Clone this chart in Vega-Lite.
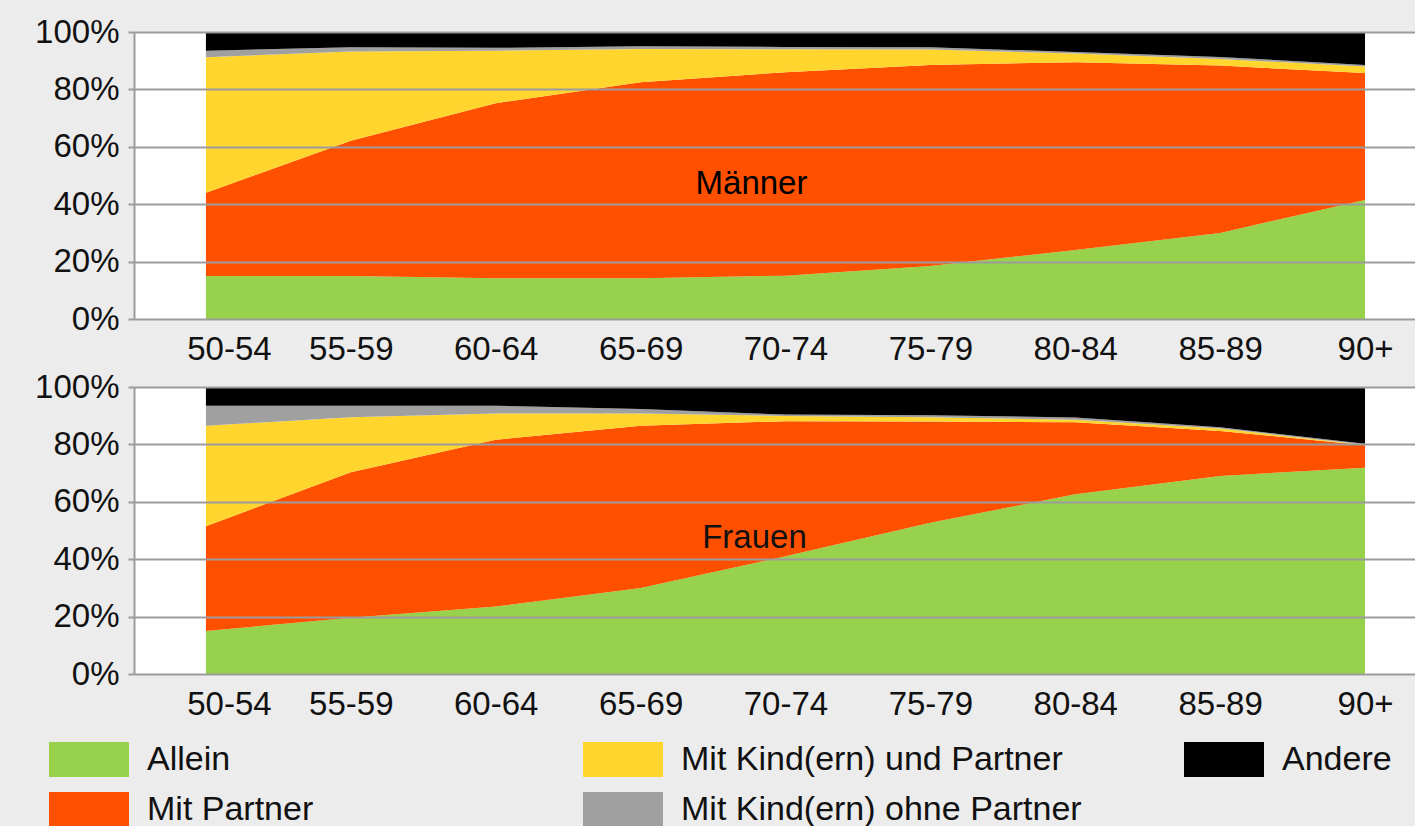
{
  "$schema": "https://vega.github.io/schema/vega-lite/v6.json",
  "background": "#ececec",
  "padding": {"left": 34, "top": 16, "right": 0, "bottom": 0},
  "bounds": "flush",
  "spacing": 68,
  "resolve": {"scale": {"color": "independent"}, "legend": {"color": "independent"}},
  "config": {
    "font": "Liberation Sans",
    "view": {"fill": "white", "stroke": null},
    "axis": {"labelFont": "Liberation Sans", "labelFontSize": 33, "labelColor": "#111111", "title": null},
    "legend": {"symbolType": "M-1,-0.4375H1V0.4375H-1Z", "symbolSize": 6400, "symbolStrokeWidth": 0, "symbolOpacity": 1,
      "clipHeight": 35, "rowPadding": 15, "labelOffset": 18, "padding": 0, "columns": 1,
      "labelFont": "Liberation Sans", "labelFontSize": 34, "labelColor": "#111111", "labelLimit": 2000}
  },
  "data": {"values": [
    {"g":"Männer","a":"50-54","t":"Allein","p":15.0},{"g":"Männer","a":"50-54","t":"Mit Partner","p":29.0},{"g":"Männer","a":"50-54","t":"Mit Kind(ern) und Partner","p":47.2},{"g":"Männer","a":"50-54","t":"Mit Kind(ern) ohne Partner","p":2.3},{"g":"Männer","a":"50-54","t":"Andere","p":6.5},
    {"g":"Männer","a":"55-59","t":"Allein","p":15.0},{"g":"Männer","a":"55-59","t":"Mit Partner","p":47.1},{"g":"Männer","a":"55-59","t":"Mit Kind(ern) und Partner","p":31.1},{"g":"Männer","a":"55-59","t":"Mit Kind(ern) ohne Partner","p":1.5},{"g":"Männer","a":"55-59","t":"Andere","p":5.3},
    {"g":"Männer","a":"60-64","t":"Allein","p":14.2},{"g":"Männer","a":"60-64","t":"Mit Partner","p":61.0},{"g":"Männer","a":"60-64","t":"Mit Kind(ern) und Partner","p":18.3},{"g":"Männer","a":"60-64","t":"Mit Kind(ern) ohne Partner","p":1.0},{"g":"Männer","a":"60-64","t":"Andere","p":5.5},
    {"g":"Männer","a":"65-69","t":"Allein","p":14.2},{"g":"Männer","a":"65-69","t":"Mit Partner","p":68.3},{"g":"Männer","a":"65-69","t":"Mit Kind(ern) und Partner","p":11.6},{"g":"Männer","a":"65-69","t":"Mit Kind(ern) ohne Partner","p":0.9},{"g":"Männer","a":"65-69","t":"Andere","p":5.0},
    {"g":"Männer","a":"70-74","t":"Allein","p":15.1},{"g":"Männer","a":"70-74","t":"Mit Partner","p":70.9},{"g":"Männer","a":"70-74","t":"Mit Kind(ern) und Partner","p":8.0},{"g":"Männer","a":"70-74","t":"Mit Kind(ern) ohne Partner","p":0.8},{"g":"Männer","a":"70-74","t":"Andere","p":5.2},
    {"g":"Männer","a":"75-79","t":"Allein","p":18.5},{"g":"Männer","a":"75-79","t":"Mit Partner","p":70.0},{"g":"Männer","a":"75-79","t":"Mit Kind(ern) und Partner","p":5.4},{"g":"Männer","a":"75-79","t":"Mit Kind(ern) ohne Partner","p":0.8},{"g":"Männer","a":"75-79","t":"Andere","p":5.3},
    {"g":"Männer","a":"80-84","t":"Allein","p":24.0},{"g":"Männer","a":"80-84","t":"Mit Partner","p":65.5},{"g":"Männer","a":"80-84","t":"Mit Kind(ern) und Partner","p":3.0},{"g":"Männer","a":"80-84","t":"Mit Kind(ern) ohne Partner","p":0.5},{"g":"Männer","a":"80-84","t":"Andere","p":7.0},
    {"g":"Männer","a":"85-89","t":"Allein","p":30.0},{"g":"Männer","a":"85-89","t":"Mit Partner","p":58.3},{"g":"Männer","a":"85-89","t":"Mit Kind(ern) und Partner","p":2.3},{"g":"Männer","a":"85-89","t":"Mit Kind(ern) ohne Partner","p":0.7},{"g":"Männer","a":"85-89","t":"Andere","p":8.7},
    {"g":"Männer","a":"90+","t":"Allein","p":41.5},{"g":"Männer","a":"90+","t":"Mit Partner","p":44.2},{"g":"Männer","a":"90+","t":"Mit Kind(ern) und Partner","p":2.3},{"g":"Männer","a":"90+","t":"Mit Kind(ern) ohne Partner","p":0.5},{"g":"Männer","a":"90+","t":"Andere","p":11.5},
    {"g":"Frauen","a":"50-54","t":"Allein","p":15.0},{"g":"Frauen","a":"50-54","t":"Mit Partner","p":36.5},{"g":"Frauen","a":"50-54","t":"Mit Kind(ern) und Partner","p":35.0},{"g":"Frauen","a":"50-54","t":"Mit Kind(ern) ohne Partner","p":7.0},{"g":"Frauen","a":"50-54","t":"Andere","p":6.5},
    {"g":"Frauen","a":"55-59","t":"Allein","p":19.6},{"g":"Frauen","a":"55-59","t":"Mit Partner","p":50.7},{"g":"Frauen","a":"55-59","t":"Mit Kind(ern) und Partner","p":19.2},{"g":"Frauen","a":"55-59","t":"Mit Kind(ern) ohne Partner","p":4.0},{"g":"Frauen","a":"55-59","t":"Andere","p":6.5},
    {"g":"Frauen","a":"60-64","t":"Allein","p":23.5},{"g":"Frauen","a":"60-64","t":"Mit Partner","p":58.1},{"g":"Frauen","a":"60-64","t":"Mit Kind(ern) und Partner","p":9.2},{"g":"Frauen","a":"60-64","t":"Mit Kind(ern) ohne Partner","p":2.7},{"g":"Frauen","a":"60-64","t":"Andere","p":6.5},
    {"g":"Frauen","a":"65-69","t":"Allein","p":30.0},{"g":"Frauen","a":"65-69","t":"Mit Partner","p":56.5},{"g":"Frauen","a":"65-69","t":"Mit Kind(ern) und Partner","p":4.3},{"g":"Frauen","a":"65-69","t":"Mit Kind(ern) ohne Partner","p":1.5},{"g":"Frauen","a":"65-69","t":"Andere","p":7.7},
    {"g":"Frauen","a":"70-74","t":"Allein","p":41.0},{"g":"Frauen","a":"70-74","t":"Mit Partner","p":47.1},{"g":"Frauen","a":"70-74","t":"Mit Kind(ern) und Partner","p":1.8},{"g":"Frauen","a":"70-74","t":"Mit Kind(ern) ohne Partner","p":0.5},{"g":"Frauen","a":"70-74","t":"Andere","p":9.6},
    {"g":"Frauen","a":"75-79","t":"Allein","p":52.7},{"g":"Frauen","a":"75-79","t":"Mit Partner","p":35.3},{"g":"Frauen","a":"75-79","t":"Mit Kind(ern) und Partner","p":1.5},{"g":"Frauen","a":"75-79","t":"Mit Kind(ern) ohne Partner","p":0.7},{"g":"Frauen","a":"75-79","t":"Andere","p":9.8},
    {"g":"Frauen","a":"80-84","t":"Allein","p":62.6},{"g":"Frauen","a":"80-84","t":"Mit Partner","p":25.1},{"g":"Frauen","a":"80-84","t":"Mit Kind(ern) und Partner","p":0.9},{"g":"Frauen","a":"80-84","t":"Mit Kind(ern) ohne Partner","p":0.8},{"g":"Frauen","a":"80-84","t":"Andere","p":10.6},
    {"g":"Frauen","a":"85-89","t":"Allein","p":69.0},{"g":"Frauen","a":"85-89","t":"Mit Partner","p":15.7},{"g":"Frauen","a":"85-89","t":"Mit Kind(ern) und Partner","p":0.8},{"g":"Frauen","a":"85-89","t":"Mit Kind(ern) ohne Partner","p":0.5},{"g":"Frauen","a":"85-89","t":"Andere","p":14.0},
    {"g":"Frauen","a":"90+","t":"Allein","p":71.9},{"g":"Frauen","a":"90+","t":"Mit Partner","p":7.8},{"g":"Frauen","a":"90+","t":"Mit Kind(ern) und Partner","p":0.2},{"g":"Frauen","a":"90+","t":"Mit Kind(ern) ohne Partner","p":0.3},{"g":"Frauen","a":"90+","t":"Andere","p":19.8}
  ]},
  "vconcat": [
    {
      "width": 1281, "height": 287,
      "resolve": {"scale": {"color": "independent"}, "legend": {"color": "independent"}},
      "layer": [
        {
          "transform": [
            {"filter": "datum.g === 'Männer'"},
            {"calculate": "indexof(['Allein','Mit Partner','Mit Kind(ern) und Partner','Mit Kind(ern) ohne Partner','Andere'], datum.t)", "as": "rang"}
          ],
          "mark": {"type": "area", "opacity": 1, "interpolate": "linear"},
          "encoding": {
            "x": {"field": "a", "type": "ordinal",
              "scale": {"type": "point", "domain": ["50-54","55-59","60-64","65-69","70-74","75-79","80-84","85-89","90+"], "padding": 0.4207, "align": 0.59},
              "axis": {"labelAngle": 0, "domain": false, "ticks": false, "grid": false, "labelPadding": 14, "labelFlush": false, "labelOverlap": false, "title": null,
                "labelOffset": {"condition": {"test": "datum.value === '50-54'", "value": 23}, "value": 0}}},
            "y": {"field": "p", "type": "quantitative", "stack": "normalize", "scale": {"domain": [0, 1], "nice": false},
              "axis": {"values": [0,0.1,0.2,0.3,0.4,0.5,0.6,0.7,0.8,0.9,1], "labelExpr": "round(datum.value*10) % 2 == 0 ? format(datum.value, '.0%') : ''",
                "grid": true, "gridColor": "#9c9c9c", "gridWidth": 2, "domainColor": "#9c9c9c", "domainWidth": 2, "tickColor": "#9c9c9c", "tickWidth": 2, "tickSize": 6,
                "labelPadding": 9, "labelFlush": false, "labelOverlap": false, "zindex": 1, "title": null}},
            "color": {"field": "t", "type": "nominal", "sort": null,
              "scale": {"domain": ["Allein","Mit Partner","Mit Kind(ern) und Partner","Mit Kind(ern) ohne Partner","Andere"], "range": ["#98d14b","#ff5000","#ffd52e","#a0a0a0","#000000"]},
              "legend": {"orient": "none", "legendX": -85, "legendY": 710, "title": null, "values": ["Allein","Mit Partner"]}},
            "order": {"field": "rang", "type": "quantitative", "sort": "ascending"}
          }
        },
        {
          "data": {"values": [{"label": "Männer", "t": "Andere"}]},
          "mark": {"type": "text", "font": "Liberation Sans", "fontSize": 33, "align": "center", "baseline": "middle", "dx": -34},
          "encoding": {
            "x": {"datum": "70-74", "type": "ordinal"},
            "y": {"datum": 0.47, "type": "quantitative"},
            "text": {"field": "label", "type": "nominal"},
            "color": {"field": "t", "type": "nominal", "scale": {"domain": ["Andere"], "range": ["#000000"]},
              "legend": {"orient": "none", "legendX": 1050, "legendY": 710, "title": null, "symbolFillColor": "#000000"}}
          }
        }
      ]
    },
    {
      "width": 1281, "height": 287,
      "layer": [
        {
          "transform": [
            {"filter": "datum.g === 'Frauen'"},
            {"calculate": "indexof(['Allein','Mit Partner','Mit Kind(ern) und Partner','Mit Kind(ern) ohne Partner','Andere'], datum.t)", "as": "rang"}
          ],
          "mark": {"type": "area", "opacity": 1, "interpolate": "linear"},
          "encoding": {
            "x": {"field": "a", "type": "ordinal",
              "scale": {"type": "point", "domain": ["50-54","55-59","60-64","65-69","70-74","75-79","80-84","85-89","90+"], "padding": 0.4207, "align": 0.59},
              "axis": {"labelAngle": 0, "domain": false, "ticks": false, "grid": false, "labelPadding": 14, "labelFlush": false, "labelOverlap": false, "title": null,
                "labelOffset": {"condition": {"test": "datum.value === '50-54'", "value": 23}, "value": 0}}},
            "y": {"field": "p", "type": "quantitative", "stack": "normalize", "scale": {"domain": [0, 1], "nice": false},
              "axis": {"values": [0,0.1,0.2,0.3,0.4,0.5,0.6,0.7,0.8,0.9,1], "labelExpr": "round(datum.value*10) % 2 == 0 ? format(datum.value, '.0%') : ''",
                "grid": true, "gridColor": "#9c9c9c", "gridWidth": 2, "domainColor": "#9c9c9c", "domainWidth": 2, "tickColor": "#9c9c9c", "tickWidth": 2, "tickSize": 6,
                "labelPadding": 9, "labelFlush": false, "labelOverlap": false, "zindex": 1, "title": null}},
            "color": {"field": "t", "type": "nominal", "sort": null,
              "scale": {"domain": ["Allein","Mit Partner","Mit Kind(ern) und Partner","Mit Kind(ern) ohne Partner","Andere"], "range": ["#98d14b","#ff5000","#ffd52e","#a0a0a0","#000000"]},
              "legend": {"orient": "none", "legendX": 449, "legendY": 355, "title": null, "values": ["Mit Kind(ern) und Partner","Mit Kind(ern) ohne Partner"]}},
            "order": {"field": "rang", "type": "quantitative", "sort": "ascending"}
          }
        },
        {
          "data": {"values": [{"label": "Frauen"}]},
          "mark": {"type": "text", "font": "Liberation Sans", "fontSize": 33, "color": "#111111", "align": "center", "baseline": "middle", "dx": -31},
          "encoding": {
            "x": {"datum": "70-74", "type": "ordinal"},
            "y": {"datum": 0.475, "type": "quantitative"},
            "text": {"field": "label", "type": "nominal"}
          }
        }
      ]
    }
  ]
}
